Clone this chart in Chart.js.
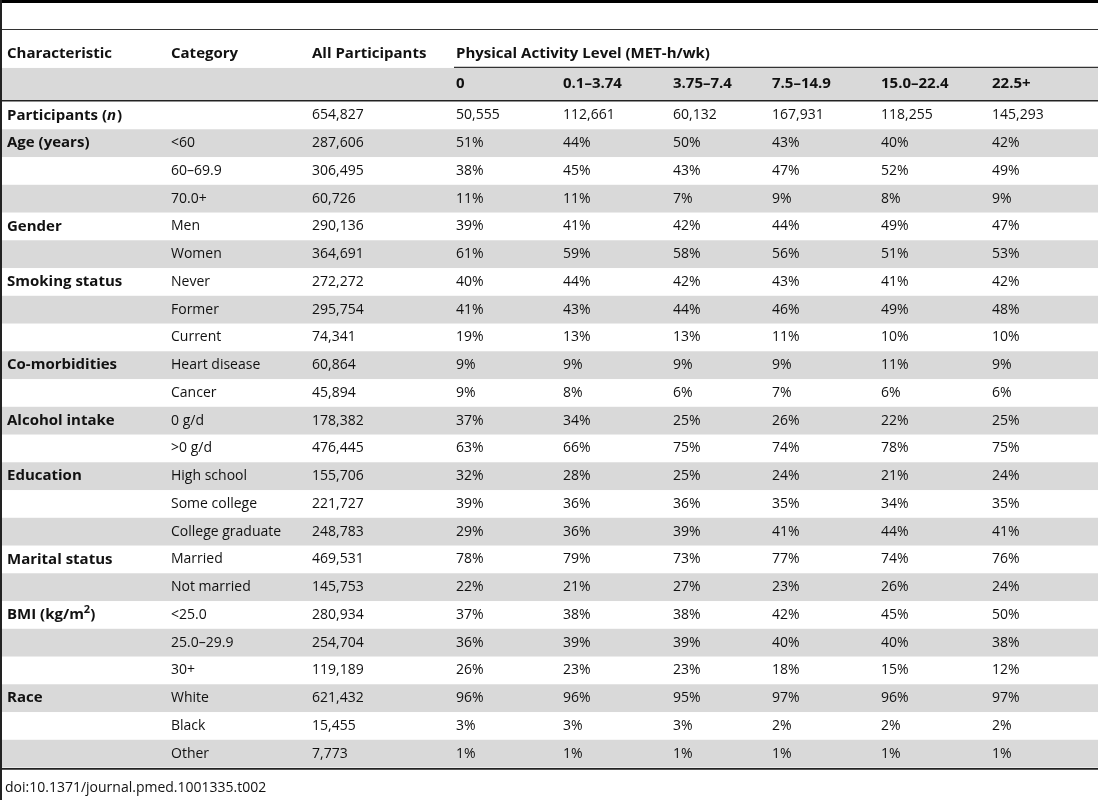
<!DOCTYPE html>
<html>
<head>
<meta charset="utf-8">
<script src="https://cdn.jsdelivr.net/npm/chart.js@4"></script>
<style>
  html, body { margin: 0; padding: 0; background: #ffffff; }
  #wrap { width: 1098px; height: 800px; }
</style>
</head>
<body>
<div id="wrap"><canvas id="c" width="1098" height="800"></canvas></div>
<script>
// ---------- DATA ----------
const headerLabels = ['Characteristic', 'Category', 'All Participants'];
const groupLabel = 'Physical Activity Level (MET-h/wk)';
const activityLevels = ['0', '0.1–3.74', '3.75–7.4', '7.5–14.9', '15.0–22.4', '22.5+'];

const characteristics = [
  'Participants (_n_)', 'Age (years)', '', '', 'Gender', '', 'Smoking status', '', '',
  'Co-morbidities', '', 'Alcohol intake', '', 'Education', '', '', 'Marital status', '',
  'BMI (kg/m^2^)', '', '', 'Race', '', ''
];
const categories = [
  '', '<60', '60–69.9', '70.0+', 'Men', 'Women', 'Never', 'Former', 'Current',
  'Heart disease', 'Cancer', '0 g/d', '>0 g/d', 'High school', 'Some college', 'College graduate',
  'Married', 'Not married', '<25.0', '25.0–29.9', '30+', 'White', 'Black', 'Other'
];
const allParticipants = [
  654827, 287606, 306495, 60726, 290136, 364691, 272272, 295754, 74341,
  60864, 45894, 178382, 476445, 155706, 221727, 248783, 469531, 145753,
  280934, 254704, 119189, 621432, 15455, 7773
];
// participant counts per activity level (first row)
const participantsByLevel = [50555, 112661, 60132, 167931, 118255, 145293];
// percentages for the remaining rows, one array per activity level
const pctLevel0    = [51, 38, 11, 39, 61, 40, 41, 19, 9, 9, 37, 63, 32, 39, 29, 78, 22, 37, 36, 26, 96, 3, 1];
const pctLevel0_1  = [44, 45, 11, 41, 59, 44, 43, 13, 9, 8, 34, 66, 28, 36, 36, 79, 21, 38, 39, 23, 96, 3, 1];
const pctLevel3_75 = [50, 43, 7, 42, 58, 42, 44, 13, 9, 6, 25, 75, 25, 36, 39, 73, 27, 38, 39, 23, 95, 3, 1];
const pctLevel7_5  = [43, 47, 9, 44, 56, 43, 46, 11, 9, 7, 26, 74, 24, 35, 41, 77, 23, 42, 40, 18, 97, 2, 1];
const pctLevel15   = [40, 52, 8, 49, 51, 41, 49, 10, 11, 6, 22, 78, 21, 34, 44, 74, 26, 45, 40, 15, 96, 2, 1];
const pctLevel22_5 = [42, 49, 9, 47, 53, 42, 48, 10, 9, 6, 25, 75, 24, 35, 41, 76, 24, 50, 38, 12, 97, 2, 1];
const pctByLevel = [pctLevel0, pctLevel0_1, pctLevel3_75, pctLevel7_5, pctLevel15, pctLevel22_5];
const sourceNote = 'doi:10.1371/journal.pmed.1001335.t002';

// ---------- LAYOUT (positions / styles) ----------
const W = 1098, H = 800;
const ROW_H = 27.75;
const FIRST_ROW_CENTER = 115.4;
const Y_MIN = -FIRST_ROW_CENTER / ROW_H;
const Y_MAX = Y_MIN + H / ROW_H;
const colX = [7, 171, 312];
const levelX = [456, 563, 673, 772, 881, 992];
const HEADER_ROW = -2.21, SUBHEADER_ROW = -1.13;
const FONT = '"Open Sans", "Noto Sans", sans-serif';
const FS = 14, FS_BOLD = 15;
const TEXT = '#111111';
const BAND = '#d9d9d9';

const fmt = n => n.toLocaleString('en-US');

function drawRich(ctx, str, x, y, bold) {
  const parts = str.split(/(_[^_]+_|\^[^^]+\^)/).filter(s => s.length);
  let cx = x;
  const base = bold ? FS_BOLD : FS;
  for (const p of parts) {
    let italic = false, sup = false, t = p;
    if (p.startsWith('_')) { italic = true; t = p.slice(1, -1); }
    if (p.startsWith('^')) { sup = true; t = p.slice(1, -1); }
    const size = sup ? Math.round(base * 0.72) : base;
    ctx.font = `${italic ? 'italic ' : ''}${bold ? 'bold ' : ''}${size}px ${FONT}`;
    ctx.fillText(t, cx, sup ? y - 5 : y);
    cx += ctx.measureText(t).width + (italic ? 1 : 0);
  }
}

const tablePlugin = {
  id: 'tablePlugin',
  beforeDatasetsDraw(chart) {
    const ctx = chart.ctx;
    const xs = chart.scales.x, ys = chart.scales.y;
    const px = v => xs.getPixelForValue(v);
    const py = v => ys.getPixelForValue(v);
    const xL = px(0), xR = px(W);
    ctx.save();
    ctx.fillStyle = BAND;
    ctx.fillRect(xL, py(-1.71), xR - xL, py(-0.53) - py(-1.71));
    for (let i = 0; i < categories.length; i++) {
      if (i % 2 === 1) {
        const a = py(i - 0.5), b = py(i + 0.5);
        ctx.fillRect(xL, a, xR - xL, b - a);
      }
    }
    const hline = (v, x0, w, color) => {
      ctx.strokeStyle = color; ctx.lineWidth = w;
      ctx.beginPath(); ctx.moveTo(px(x0), py(v)); ctx.lineTo(xR, py(v)); ctx.stroke();
    };
    hline(-4.104, 0, 3.2, '#000000');
    hline(-3.095, 0, 1.2, '#333333');
    hline(-1.733, levelX[0] - 2, 1.2, '#333333');
    hline(-0.53, 0, 1.6, '#222222');
    hline(23.55, 0, 1.6, '#222222');
    ctx.strokeStyle = '#222222'; ctx.lineWidth = 2;
    ctx.beginPath(); ctx.moveTo(px(1), py(Y_MIN)); ctx.lineTo(px(1), py(Y_MAX)); ctx.stroke();

    ctx.fillStyle = TEXT;
    ctx.textBaseline = 'middle';
    ctx.textAlign = 'left';
    headerLabels.forEach((t, j) => drawRich(ctx, t, px(colX[j]), py(HEADER_ROW), true));
    drawRich(ctx, groupLabel, px(levelX[0]), py(HEADER_ROW), true);
    activityLevels.forEach((t, j) => drawRich(ctx, t, px(levelX[j]), py(SUBHEADER_ROW), true));

    for (let i = 0; i < categories.length; i++) {
      const y = py(i);
      if (characteristics[i]) drawRich(ctx, characteristics[i], px(colX[0]), y, true);
      if (categories[i]) drawRich(ctx, categories[i], px(colX[1]), y, false);
      drawRich(ctx, fmt(allParticipants[i]), px(colX[2]), y, false);
      for (let j = 0; j < activityLevels.length; j++) {
        const txt = i === 0 ? fmt(participantsByLevel[j]) : pctByLevel[j][i - 1] + '%';
        drawRich(ctx, txt, px(levelX[j]), y, false);
      }
    }
    ctx.font = `${FS}px ${FONT}`;
    ctx.fillText(sourceNote, px(5), py(24.24));
    ctx.restore();
  }
};

new Chart(document.getElementById('c'), {
  type: 'scatter',
  data: { datasets: [{ data: [], pointRadius: 0 }] },
  options: {
    responsive: false,
    animation: false,
    devicePixelRatio: 1,
    layout: { padding: 0 },
    plugins: { legend: { display: false }, tooltip: { enabled: false } },
    scales: {
      x: { type: 'linear', min: 0, max: W, display: false },
      y: { type: 'linear', min: Y_MIN, max: Y_MAX, reverse: true, display: false }
    }
  },
  plugins: [tablePlugin]
});
</script>
</body>
</html>
